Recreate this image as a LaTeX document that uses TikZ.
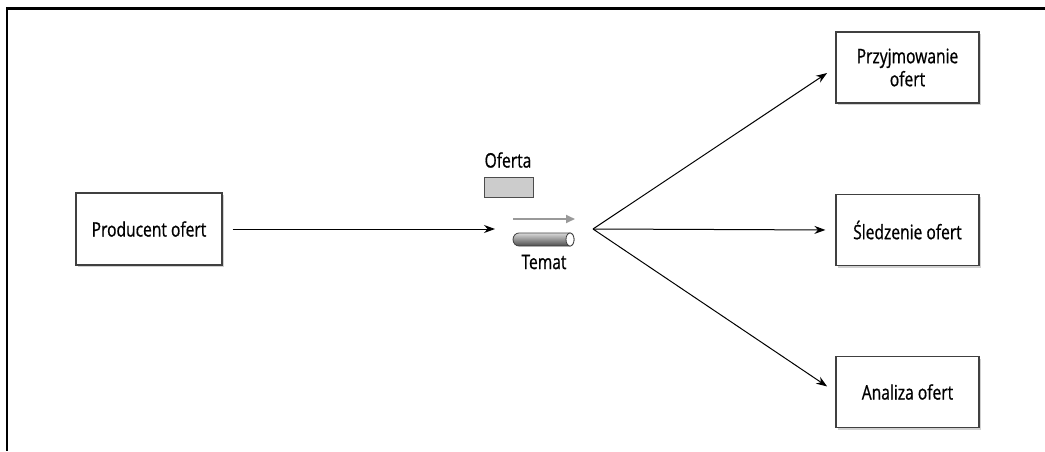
\documentclass[tikz,border=0pt]{standalone}
\usepackage{fontspec}
\setmainfont{Open Sans}[FakeStretch=0.78,FakeBold=0.8]
\usetikzlibrary{arrows.meta,shadows}
\tikzset{
    box/.style={draw=black!75, line width=1.2pt, fill=white, minimum width=146pt,
        minimum height=72pt, align=center, font=\fontsize{20}{23}\selectfont,
        drop shadow={shadow xshift=2pt, shadow yshift=-2pt, fill=black!30, opacity=0.6}},
    flow/.style={-{Stealth[length=11pt,width=8pt]}, line width=1pt},
    lbl/.style={font=\fontsize{20}{23}\selectfont}
}
\begin{document}
\begin{tikzpicture}[x=1pt,y=1pt]
        \useasboundingbox (0,0) rectangle (1045,451);
        % Frame
        \draw[line width=2.5pt] (1045,442.5) -- (7,442.5) -- (7,0);

        % Producer and consumers
        \node[box] (producer) at (149,222) {Producent ofert};
        \node[box, minimum width=143pt, minimum height=71pt] (accept) at (907.5,383.5) {Przyjmowanie\\ofert};
        \node[box, minimum width=143pt, minimum height=71pt] (track) at (907.5,221) {Śledzenie ofert};
        \node[box, minimum width=143pt, minimum height=71pt] (analyze) at (907.5,59) {Analiza ofert};

        % Topic
        \node[draw=black!70, line width=0.8pt, fill=black!20, minimum width=49pt, minimum height=20pt, inner sep=0pt] (offer) at (508.5,264) {};
        \node[lbl] (offerlbl) at (508,291) {Oferta};
        \shade[top color=black!15, bottom color=black!70, draw=black!75, line width=0.8pt]
            (519,218) -- (570,218) arc (90:-90:4 and 6.5) -- (519,205) arc (270:90:6 and 6.5) -- cycle;
        \draw[fill=white, draw=black!75, line width=0.8pt] (570,211.5) ellipse (4 and 6.5);
        \node[inner sep=0pt] (topic) at (544,211.5) {};
        \node[lbl] (topiclbl) at (544,189) {Temat};
        \coordinate (gs) at (513,232);
        \coordinate (ge) at (575,232);
        \draw[-{Triangle[length=9pt,width=8pt]}, draw=black!40, line width=1.8pt] (gs) -- (ge);

        \coordinate (topicin) at (495,222);
        \coordinate (fan) at (593,222);

        % Arrows
        \draw[flow] (producer.east) ++(10pt,0) -- (topicin);
        \draw[flow, shorten >=10pt] (fan) -- (accept.west);
        \draw[flow, shorten >=10pt] (fan) -- (track.west);
        \draw[flow, shorten >=10pt] (fan) -- (analyze.west);
    \end{tikzpicture}
\end{document}
